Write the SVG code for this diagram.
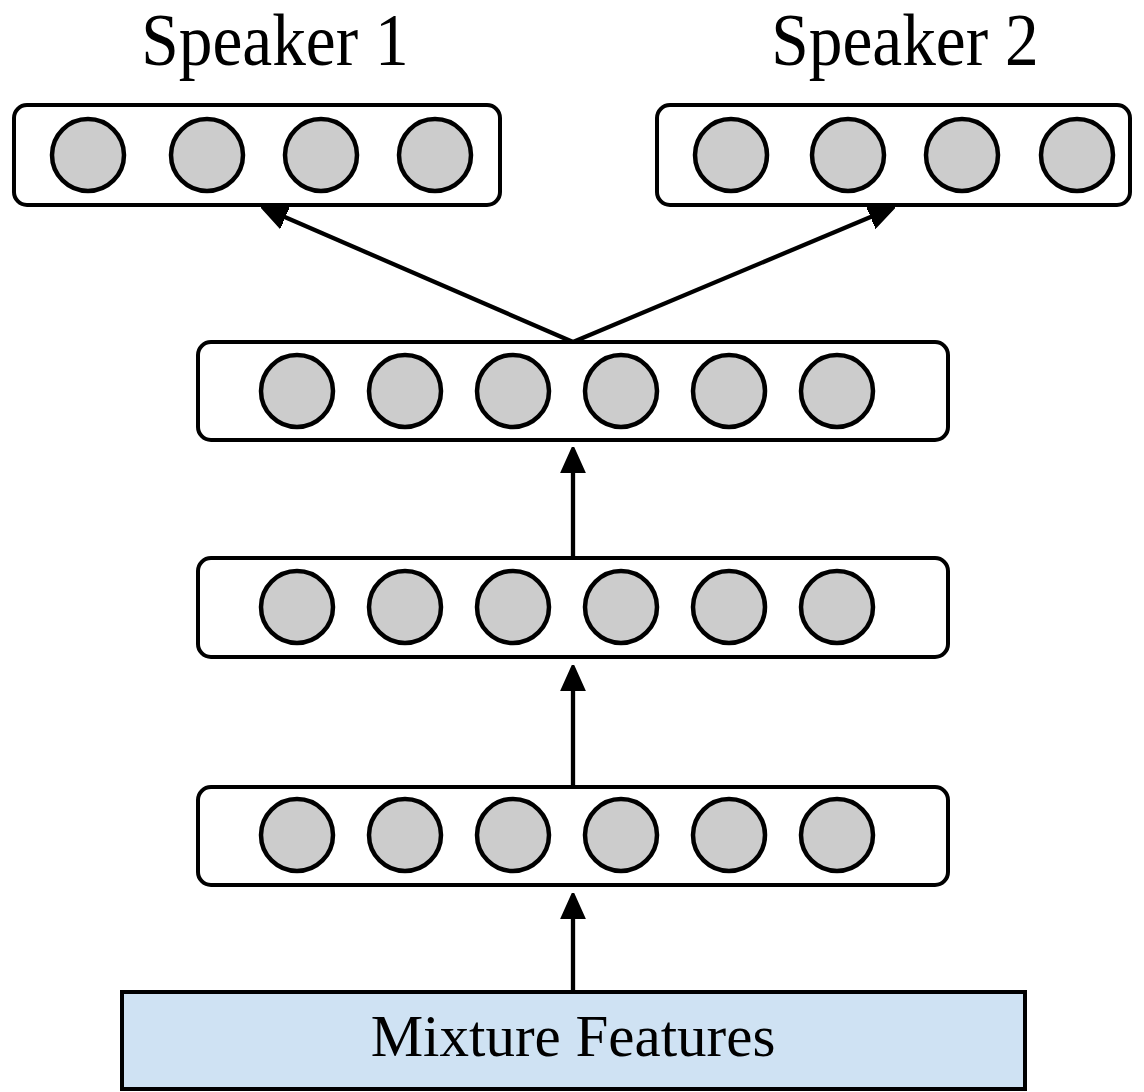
<svg xmlns="http://www.w3.org/2000/svg" width="1144" height="1092" viewBox="0 0 1144 1092">
  <style>
    .layer { fill: #ffffff; stroke: #000000; stroke-width: 4; }
    .unit { fill: #cccccc; stroke: #000000; stroke-width: 4.5; }
    .edge { stroke: #000000; stroke-width: 4.3; fill: none; }
    .label { font-family: "Liberation Serif", "Times New Roman", serif; fill: #000000; }
    .title { font-size: 74px; }
  </style>
  <defs>
    <marker id="head" viewBox="0 0 10 10" refX="9" refY="5" markerWidth="6" markerHeight="6" markerUnits="strokeWidth" orient="auto">
      <path d="M0,0.5 L10,5 L0,9.5 Z" fill="#000000" stroke="#000000" stroke-width="1" stroke-linejoin="round"/>
    </marker>
  </defs>

  <rect width="1144" height="1092" fill="#ffffff"/>

  <!-- output titles, slightly condensed -->
  <text class="label title" transform="translate(275 65) scale(0.91 1)" text-anchor="middle">Speaker 1</text>
  <text class="label title" transform="translate(905 65) scale(0.91 1)" text-anchor="middle">Speaker 2</text>

  <g id="connectors">
    <line class="edge" x1="573" y1="990" x2="573" y2="896" marker-end="url(#head)"/>
    <line class="edge" x1="573" y1="786" x2="573" y2="668" marker-end="url(#head)"/>
    <line class="edge" x1="573" y1="557" x2="573" y2="450" marker-end="url(#head)"/>
    <line class="edge" x1="573" y1="342" x2="264" y2="208" marker-end="url(#head)"/>
    <line class="edge" x1="573" y1="342" x2="892" y2="208" marker-end="url(#head)"/>
  </g>

  <g id="speaker1">
    <rect class="layer" x="14" y="105" width="486" height="100" rx="13"/>
    <circle class="unit" cx="88" cy="155" r="36"/>
    <circle class="unit" cx="207" cy="155" r="36"/>
    <circle class="unit" cx="321" cy="155" r="36"/>
    <circle class="unit" cx="435" cy="155" r="36"/>
  </g>

  <g id="speaker2">
    <rect class="layer" x="657" y="105" width="473" height="100" rx="13"/>
    <circle class="unit" cx="731" cy="155" r="36"/>
    <circle class="unit" cx="848" cy="155" r="36"/>
    <circle class="unit" cx="962" cy="155" r="36"/>
    <circle class="unit" cx="1077" cy="155" r="36"/>
  </g>

  <g id="hidden3">
    <rect class="layer" x="198" y="342" width="750" height="98" rx="13"/>
    <circle class="unit" cx="297" cy="391" r="36"/>
    <circle class="unit" cx="405" cy="391" r="36"/>
    <circle class="unit" cx="513" cy="391" r="36"/>
    <circle class="unit" cx="621" cy="391" r="36"/>
    <circle class="unit" cx="729" cy="391" r="36"/>
    <circle class="unit" cx="837" cy="391" r="36"/>
  </g>

  <g id="hidden2">
    <rect class="layer" x="198" y="558" width="750" height="99" rx="13"/>
    <circle class="unit" cx="297" cy="607" r="36"/>
    <circle class="unit" cx="405" cy="607" r="36"/>
    <circle class="unit" cx="513" cy="607" r="36"/>
    <circle class="unit" cx="621" cy="607" r="36"/>
    <circle class="unit" cx="729" cy="607" r="36"/>
    <circle class="unit" cx="837" cy="607" r="36"/>
  </g>

  <g id="hidden1">
    <rect class="layer" x="198" y="787" width="750" height="98" rx="13"/>
    <circle class="unit" cx="297" cy="835" r="36"/>
    <circle class="unit" cx="405" cy="835" r="36"/>
    <circle class="unit" cx="513" cy="835" r="36"/>
    <circle class="unit" cx="621" cy="835" r="36"/>
    <circle class="unit" cx="729" cy="835" r="36"/>
    <circle class="unit" cx="837" cy="835" r="36"/>
  </g>

  <g id="mixture">
    <rect x="122" y="992" width="903" height="97" fill="#cfe2f3" stroke="#000000" stroke-width="4"/>
    <text class="label" x="573" y="1056" text-anchor="middle" font-size="59">Mixture Features</text>
  </g>
</svg>
